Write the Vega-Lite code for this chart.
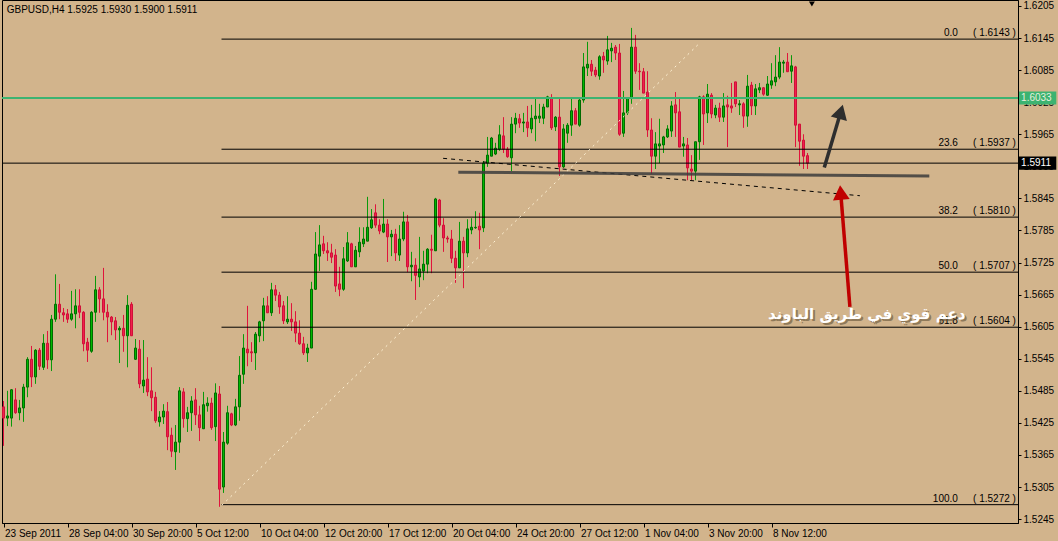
{
"$schema": "https://vega.github.io/schema/vega-lite/v6.json",
"width": 1016, "height": 523,
"autosize": {"type": "none"},
"padding": {"left": 2, "top": 0, "right": 40, "bottom": 18},
"background": "#D2B48C",
"resolve": {"axis": {"x": "independent", "y": "independent"}},
"config": {
  "view": {"stroke": "#000000", "strokeWidth": 1},
  "font": "Liberation Sans",
  "scale": {"continuousPadding": 0},
  "axis": {"grid": false, "labelFont": "Liberation Sans", "labelFontSize": 10, "labelColor": "#000000", "tickColor": "#000000", "domainColor": "#000000", "title": null, "labelOverlap": false, "labelFlush": false}
},
"datasets": {
"bars": [
{"i":0,"o":1.5455,"h":1.5466,"l":1.5382,"c":1.5434},
{"i":1,"o":1.5434,"h":1.5485,"l":1.5419,"c":1.5438},
{"i":2,"o":1.5434,"h":1.5488,"l":1.5418,"c":1.5487},
{"i":3,"o":1.5468,"h":1.5490,"l":1.5442,"c":1.5444},
{"i":4,"o":1.5444,"h":1.5468,"l":1.5430,"c":1.5453},
{"i":5,"o":1.5453,"h":1.5498,"l":1.5427,"c":1.5492},
{"i":6,"o":1.5492,"h":1.5548,"l":1.5473,"c":1.5544},
{"i":7,"o":1.5544,"h":1.5569,"l":1.5492,"c":1.5511},
{"i":8,"o":1.5511,"h":1.5563,"l":1.5498,"c":1.5561},
{"i":9,"o":1.5561,"h":1.5565,"l":1.5524,"c":1.5531},
{"i":10,"o":1.5529,"h":1.5591,"l":1.5524,"c":1.5574},
{"i":11,"o":1.5574,"h":1.5597,"l":1.5526,"c":1.5543},
{"i":12,"o":1.5543,"h":1.5627,"l":1.5522,"c":1.5619},
{"i":13,"o":1.5619,"h":1.5703,"l":1.5614,"c":1.5647},
{"i":14,"o":1.5647,"h":1.5685,"l":1.5619,"c":1.5632},
{"i":15,"o":1.5631,"h":1.5640,"l":1.5614,"c":1.5627},
{"i":16,"o":1.5629,"h":1.5638,"l":1.5612,"c":1.5619},
{"i":17,"o":1.5619,"h":1.5672,"l":1.5616,"c":1.5629},
{"i":18,"o":1.5629,"h":1.5675,"l":1.5602,"c":1.5644},
{"i":19,"o":1.5644,"h":1.5675,"l":1.5621,"c":1.5632},
{"i":20,"o":1.5632,"h":1.5634,"l":1.5559,"c":1.5573},
{"i":21,"o":1.5576,"h":1.5584,"l":1.5539,"c":1.5561},
{"i":22,"o":1.5559,"h":1.5634,"l":1.5556,"c":1.5632},
{"i":23,"o":1.5632,"h":1.5700,"l":1.5614,"c":1.5674},
{"i":24,"o":1.5674,"h":1.5679,"l":1.5631,"c":1.5657},
{"i":25,"o":1.5657,"h":1.5715,"l":1.5617,"c":1.5632},
{"i":26,"o":1.5632,"h":1.5647,"l":1.5576,"c":1.5623},
{"i":27,"o":1.5623,"h":1.5625,"l":1.5589,"c":1.5614},
{"i":28,"o":1.5616,"h":1.5623,"l":1.5580,"c":1.5599},
{"i":29,"o":1.5599,"h":1.5606,"l":1.5537,"c":1.5602},
{"i":30,"o":1.5602,"h":1.5627,"l":1.5558,"c":1.5588},
{"i":31,"o":1.5588,"h":1.5664,"l":1.5529,"c":1.5645},
{"i":32,"o":1.5647,"h":1.5651,"l":1.5588,"c":1.5588},
{"i":33,"o":1.5544,"h":1.5582,"l":1.5543,"c":1.5565},
{"i":34,"o":1.5563,"h":1.5580,"l":1.5490,"c":1.5498},
{"i":35,"o":1.5494,"h":1.5580,"l":1.5481,"c":1.5505},
{"i":36,"o":1.5507,"h":1.5548,"l":1.5475,"c":1.5483},
{"i":37,"o":1.5485,"h":1.5529,"l":1.5447,"c":1.5472},
{"i":38,"o":1.5473,"h":1.5483,"l":1.5425,"c":1.5429},
{"i":39,"o":1.5427,"h":1.5447,"l":1.5418,"c":1.5436},
{"i":40,"o":1.5436,"h":1.5460,"l":1.5423,"c":1.5447},
{"i":41,"o":1.5446,"h":1.5464,"l":1.5374,"c":1.5399},
{"i":42,"o":1.5402,"h":1.5416,"l":1.5361,"c":1.5372},
{"i":43,"o":1.5371,"h":1.5421,"l":1.5337,"c":1.5389},
{"i":44,"o":1.5389,"h":1.5492,"l":1.5369,"c":1.5485},
{"i":45,"o":1.5483,"h":1.5490,"l":1.5416,"c":1.5433},
{"i":46,"o":1.5433,"h":1.5455,"l":1.5408,"c":1.5444},
{"i":47,"o":1.5444,"h":1.5475,"l":1.5410,"c":1.5466},
{"i":48,"o":1.5468,"h":1.5490,"l":1.5421,"c":1.5440},
{"i":49,"o":1.5440,"h":1.5457,"l":1.5391,"c":1.5416},
{"i":50,"o":1.5414,"h":1.5483,"l":1.5414,"c":1.5459},
{"i":51,"o":1.5457,"h":1.5473,"l":1.5446,"c":1.5462},
{"i":52,"o":1.5462,"h":1.5472,"l":1.5412,"c":1.5416},
{"i":53,"o":1.5418,"h":1.5499,"l":1.5391,"c":1.5481},
{"i":54,"o":1.5479,"h":1.5494,"l":1.5268,"c":1.5301},
{"i":55,"o":1.5305,"h":1.5408,"l":1.5294,"c":1.5389},
{"i":56,"o":1.5387,"h":1.5457,"l":1.5384,"c":1.5444},
{"i":57,"o":1.5442,"h":1.5444,"l":1.5419,"c":1.5421},
{"i":58,"o":1.5421,"h":1.5470,"l":1.5419,"c":1.5455},
{"i":59,"o":1.5455,"h":1.5550,"l":1.5429,"c":1.5514},
{"i":60,"o":1.5516,"h":1.5591,"l":1.5498,"c":1.5565},
{"i":61,"o":1.5563,"h":1.5644,"l":1.5531,"c":1.5556},
{"i":62,"o":1.5558,"h":1.5576,"l":1.5539,"c":1.5556},
{"i":63,"o":1.5556,"h":1.5595,"l":1.5524,"c":1.5591},
{"i":64,"o":1.5588,"h":1.5616,"l":1.5576,"c":1.5614},
{"i":65,"o":1.5616,"h":1.5659,"l":1.5578,"c":1.5644},
{"i":66,"o":1.5644,"h":1.5662,"l":1.5631,"c":1.5631},
{"i":67,"o":1.5631,"h":1.5687,"l":1.5625,"c":1.5674},
{"i":68,"o":1.5674,"h":1.5683,"l":1.5653,"c":1.5664},
{"i":69,"o":1.5664,"h":1.5670,"l":1.5629,"c":1.5642},
{"i":70,"o":1.5644,"h":1.5653,"l":1.5610,"c":1.5616},
{"i":71,"o":1.5614,"h":1.5662,"l":1.5610,"c":1.5619},
{"i":72,"o":1.5619,"h":1.5649,"l":1.5597,"c":1.5614},
{"i":73,"o":1.5614,"h":1.5634,"l":1.5576,"c":1.5593},
{"i":74,"o":1.5593,"h":1.5617,"l":1.5571,"c":1.5573},
{"i":75,"o":1.5573,"h":1.5586,"l":1.5552,"c":1.5556},
{"i":76,"o":1.5556,"h":1.5573,"l":1.5539,"c":1.5565},
{"i":77,"o":1.5565,"h":1.5689,"l":1.5565,"c":1.5675},
{"i":78,"o":1.5675,"h":1.5782,"l":1.5674,"c":1.5741},
{"i":79,"o":1.5737,"h":1.5795,"l":1.5709,"c":1.5758},
{"i":80,"o":1.5760,"h":1.5775,"l":1.5741,"c":1.5747},
{"i":81,"o":1.5747,"h":1.5763,"l":1.5728,"c":1.5743},
{"i":82,"o":1.5743,"h":1.5760,"l":1.5724,"c":1.5735},
{"i":83,"o":1.5739,"h":1.5750,"l":1.5670,"c":1.5681},
{"i":84,"o":1.5685,"h":1.5717,"l":1.5662,"c":1.5675},
{"i":85,"o":1.5675,"h":1.5754,"l":1.5672,"c":1.5732},
{"i":86,"o":1.5728,"h":1.5782,"l":1.5726,"c":1.5762},
{"i":87,"o":1.5760,"h":1.5762,"l":1.5717,"c":1.5717},
{"i":88,"o":1.5717,"h":1.5756,"l":1.5717,"c":1.5748},
{"i":89,"o":1.5745,"h":1.5791,"l":1.5735,"c":1.5763},
{"i":90,"o":1.5760,"h":1.5791,"l":1.5754,"c":1.5769},
{"i":91,"o":1.5765,"h":1.5848,"l":1.5765,"c":1.5791},
{"i":92,"o":1.5790,"h":1.5825,"l":1.5788,"c":1.5805},
{"i":93,"o":1.5818,"h":1.5834,"l":1.5790,"c":1.5795},
{"i":94,"o":1.5795,"h":1.5806,"l":1.5778,"c":1.5784},
{"i":95,"o":1.5782,"h":1.5844,"l":1.5780,"c":1.5797},
{"i":96,"o":1.5797,"h":1.5806,"l":1.5726,"c":1.5773},
{"i":97,"o":1.5773,"h":1.5786,"l":1.5737,"c":1.5778},
{"i":98,"o":1.5778,"h":1.5788,"l":1.5728,"c":1.5743},
{"i":99,"o":1.5739,"h":1.5795,"l":1.5728,"c":1.5769},
{"i":100,"o":1.5769,"h":1.5820,"l":1.5765,"c":1.5801},
{"i":101,"o":1.5801,"h":1.5814,"l":1.5707,"c":1.5717},
{"i":102,"o":1.5717,"h":1.5745,"l":1.5690,"c":1.5720},
{"i":103,"o":1.5720,"h":1.5733,"l":1.5655,"c":1.5701},
{"i":104,"o":1.5698,"h":1.5773,"l":1.5679,"c":1.5713},
{"i":105,"o":1.5709,"h":1.5747,"l":1.5692,"c":1.5722},
{"i":106,"o":1.5722,"h":1.5752,"l":1.5705,"c":1.5750},
{"i":107,"o":1.5750,"h":1.5777,"l":1.5705,"c":1.5748},
{"i":108,"o":1.5747,"h":1.5846,"l":1.5747,"c":1.5844},
{"i":109,"o":1.5842,"h":1.5844,"l":1.5791,"c":1.5795},
{"i":110,"o":1.5795,"h":1.5808,"l":1.5745,"c":1.5771},
{"i":111,"o":1.5771,"h":1.5775,"l":1.5762,"c":1.5769},
{"i":112,"o":1.5769,"h":1.5786,"l":1.5724,"c":1.5733},
{"i":113,"o":1.5733,"h":1.5747,"l":1.5687,"c":1.5715},
{"i":114,"o":1.5715,"h":1.5801,"l":1.5715,"c":1.5765},
{"i":115,"o":1.5765,"h":1.5773,"l":1.5677,"c":1.5743},
{"i":116,"o":1.5743,"h":1.5806,"l":1.5735,"c":1.5788},
{"i":117,"o":1.5786,"h":1.5808,"l":1.5778,"c":1.5791},
{"i":118,"o":1.5790,"h":1.5821,"l":1.5788,"c":1.5791},
{"i":119,"o":1.5793,"h":1.5818,"l":1.5750,"c":1.5786},
{"i":120,"o":1.5790,"h":1.5915,"l":1.5782,"c":1.5911},
{"i":121,"o":1.5911,"h":1.5960,"l":1.5904,"c":1.5926},
{"i":122,"o":1.5924,"h":1.5960,"l":1.5924,"c":1.5958},
{"i":123,"o":1.5928,"h":1.5949,"l":1.5926,"c":1.5939},
{"i":124,"o":1.5937,"h":1.5982,"l":1.5934,"c":1.5964},
{"i":125,"o":1.5962,"h":1.5997,"l":1.5930,"c":1.5937},
{"i":126,"o":1.5937,"h":1.5941,"l":1.5921,"c":1.5923},
{"i":127,"o":1.5921,"h":1.5997,"l":1.5896,"c":1.5984},
{"i":128,"o":1.5984,"h":1.6005,"l":1.5967,"c":1.5995},
{"i":129,"o":1.5994,"h":1.6003,"l":1.5977,"c":1.5986},
{"i":130,"o":1.5986,"h":1.6005,"l":1.5969,"c":1.5988},
{"i":131,"o":1.5988,"h":1.6018,"l":1.5960,"c":1.5977},
{"i":132,"o":1.5975,"h":1.6020,"l":1.5967,"c":1.5995},
{"i":133,"o":1.5994,"h":1.6031,"l":1.5952,"c":1.5999},
{"i":134,"o":1.5995,"h":1.6022,"l":1.5986,"c":1.5999},
{"i":135,"o":1.5995,"h":1.6022,"l":1.5984,"c":1.6016},
{"i":136,"o":1.6016,"h":1.6037,"l":1.6016,"c":1.6035},
{"i":137,"o":1.6033,"h":1.6040,"l":1.5973,"c":1.5977},
{"i":138,"o":1.5979,"h":1.5999,"l":1.5971,"c":1.5997},
{"i":139,"o":1.5997,"h":1.6033,"l":1.5887,"c":1.5904},
{"i":140,"o":1.5904,"h":1.5984,"l":1.5902,"c":1.5975},
{"i":141,"o":1.5967,"h":1.5986,"l":1.5949,"c":1.5982},
{"i":142,"o":1.5982,"h":1.6031,"l":1.5962,"c":1.6009},
{"i":143,"o":1.6009,"h":1.6014,"l":1.5984,"c":1.5984},
{"i":144,"o":1.5982,"h":1.6031,"l":1.5979,"c":1.6029},
{"i":145,"o":1.6029,"h":1.6117,"l":1.6024,"c":1.6091},
{"i":146,"o":1.6089,"h":1.6138,"l":1.6074,"c":1.6096},
{"i":147,"o":1.6096,"h":1.6104,"l":1.6074,"c":1.6083},
{"i":148,"o":1.6085,"h":1.6091,"l":1.6072,"c":1.6076},
{"i":149,"o":1.6074,"h":1.6113,"l":1.6067,"c":1.6110},
{"i":150,"o":1.6111,"h":1.6119,"l":1.6080,"c":1.6104},
{"i":151,"o":1.6102,"h":1.6149,"l":1.6095,"c":1.6123},
{"i":152,"o":1.6121,"h":1.6136,"l":1.6100,"c":1.6126},
{"i":153,"o":1.6128,"h":1.6132,"l":1.6104,"c":1.6117},
{"i":154,"o":1.6117,"h":1.6134,"l":1.5962,"c":1.5965},
{"i":155,"o":1.5967,"h":1.6046,"l":1.5960,"c":1.6005},
{"i":156,"o":1.6005,"h":1.6033,"l":1.6001,"c":1.6033},
{"i":157,"o":1.6033,"h":1.6164,"l":1.6022,"c":1.6128},
{"i":158,"o":1.6128,"h":1.6151,"l":1.6078,"c":1.6083},
{"i":159,"o":1.6083,"h":1.6098,"l":1.6048,"c":1.6082},
{"i":160,"o":1.6082,"h":1.6089,"l":1.6042,"c":1.6042},
{"i":161,"o":1.6044,"h":1.6083,"l":1.5960,"c":1.5973},
{"i":162,"o":1.5973,"h":1.5995,"l":1.5891,"c":1.5924},
{"i":163,"o":1.5924,"h":1.5969,"l":1.5900,"c":1.5947},
{"i":164,"o":1.5943,"h":1.5994,"l":1.5911,"c":1.5947},
{"i":165,"o":1.5945,"h":1.5962,"l":1.5930,"c":1.5960},
{"i":166,"o":1.5960,"h":1.5982,"l":1.5958,"c":1.5975},
{"i":167,"o":1.5971,"h":1.6027,"l":1.5960,"c":1.6018},
{"i":168,"o":1.6020,"h":1.6044,"l":1.5960,"c":1.6005},
{"i":169,"o":1.6007,"h":1.6033,"l":1.5941,"c":1.5941},
{"i":170,"o":1.5943,"h":1.5960,"l":1.5923,"c":1.5947},
{"i":171,"o":1.5945,"h":1.5958,"l":1.5879,"c":1.5902},
{"i":172,"o":1.5900,"h":1.5926,"l":1.5879,"c":1.5896},
{"i":173,"o":1.5896,"h":1.5951,"l":1.5879,"c":1.5951},
{"i":174,"o":1.5951,"h":1.6037,"l":1.5917,"c":1.6035},
{"i":175,"o":1.6035,"h":1.6038,"l":1.5945,"c":1.6003},
{"i":176,"o":1.6005,"h":1.6059,"l":1.5986,"c":1.6040},
{"i":177,"o":1.6038,"h":1.6042,"l":1.5995,"c":1.6003},
{"i":178,"o":1.6001,"h":1.6020,"l":1.5995,"c":1.6014},
{"i":179,"o":1.6014,"h":1.6024,"l":1.5988,"c":1.5997},
{"i":180,"o":1.5997,"h":1.6042,"l":1.5988,"c":1.6018},
{"i":181,"o":1.6020,"h":1.6037,"l":1.5941,"c":1.6016},
{"i":182,"o":1.6018,"h":1.6061,"l":1.6005,"c":1.6014},
{"i":183,"o":1.6063,"h":1.6063,"l":1.6016,"c":1.6022},
{"i":184,"o":1.6020,"h":1.6029,"l":1.6001,"c":1.6022},
{"i":185,"o":1.6022,"h":1.6025,"l":1.5977,"c":1.5999},
{"i":186,"o":1.5999,"h":1.6076,"l":1.5979,"c":1.6055},
{"i":187,"o":1.6057,"h":1.6063,"l":1.6001,"c":1.6018},
{"i":188,"o":1.6018,"h":1.6059,"l":1.6001,"c":1.6050},
{"i":189,"o":1.6048,"h":1.6061,"l":1.6042,"c":1.6052},
{"i":190,"o":1.6052,"h":1.6053,"l":1.6037,"c":1.6040},
{"i":191,"o":1.6038,"h":1.6074,"l":1.6037,"c":1.6059},
{"i":192,"o":1.6057,"h":1.6098,"l":1.6050,"c":1.6065},
{"i":193,"o":1.6063,"h":1.6113,"l":1.6055,"c":1.6072},
{"i":194,"o":1.6072,"h":1.6128,"l":1.6068,"c":1.6100},
{"i":195,"o":1.6098,"h":1.6104,"l":1.6080,"c":1.6100},
{"i":196,"o":1.6100,"h":1.6117,"l":1.6082,"c":1.6082},
{"i":197,"o":1.6083,"h":1.6113,"l":1.6061,"c":1.6093},
{"i":198,"o":1.6091,"h":1.6093,"l":1.5941,"c":1.5982},
{"i":199,"o":1.5984,"h":1.5984,"l":1.5906,"c":1.5952},
{"i":200,"o":1.5954,"h":1.5965,"l":1.5900,"c":1.5924},
{"i":201,"o":1.5925,"h":1.5930,"l":1.5900,"c":1.5911}
],
"fib": [
{"lvl":"0.0","p":1.6143,"lab":"( 1.6143 )"},
{"lvl":"23.6","p":1.5937,"lab":"( 1.5937 )"},
{"lvl":"38.2","p":1.5810,"lab":"( 1.5810 )"},
{"lvl":"50.0","p":1.5707,"lab":"( 1.5707 )"},
{"lvl":"61.8","p":1.5604,"lab":"( 1.5604 )"},
{"lvl":"100.0","p":1.5272,"lab":"( 1.5272 )"}
],
"trend": [{"i":54.6,"p":1.5271},{"i":174.1,"p":1.6136}],
"dashed": [{"i":109.9,"p":1.5920},{"i":214.1,"p":1.5850}],
"support": [{"i":113.7,"p":1.5894},{"i":231.45,"p":1.5887}],
"darkArrow": [{"i":205.2,"p":1.5903},{"i":209.33,"p":1.6007}],
"redArrow": [{"i":211.6,"p":1.5642},{"i":209.3,"p":1.5856}]
},
"layer": [
{
  "data": {"name": "bars"},
  "mark": {"type": "rule", "strokeWidth": 1},
  "encoding": {
    "x": {"field": "i", "type": "quantitative", "scale": {"domain": [-0.375, 253.625], "nice": false, "zero": false, "padding": 0},
      "axis": {"orient": "bottom", "values": [0,16,32,48,64,80,96,112,128,144,160,176,192], "labelExpr": "['23 Sep 2011','28 Sep 04:00','30 Sep 20:00','5 Oct 12:00','10 Oct 04:00','12 Oct 20:00','17 Oct 12:00','20 Oct 04:00','24 Oct 20:00','27 Oct 12:00','1 Nov 04:00','3 Nov 20:00','8 Nov 12:00'][round(datum.value/16)]", "labelAlign": "left", "labelBaseline": "top", "labelPadding": 1, "tickSize": 4, "labelOffset": 1, "labelFlush": false, "labelOverlap": false, "domain": true}, "title": null},
    "y": {"field": "l", "type": "quantitative", "scale": {"domain": [1.52377, 1.62162], "nice": false, "zero": false, "padding": 0},
      "axis": {"orient": "right", "values": [1.6205,1.6145,1.6085,1.6025,1.5965,1.5905,1.5845,1.5785,1.5725,1.5665,1.5605,1.5545,1.5485,1.5425,1.5365,1.5305,1.5245], "format": ".4f", "tickSize": 3, "labelPadding": 2, "labelFlush": false, "labelOverlap": false, "labelSeparation": 0, "domain": true}, "title": null},
    "y2": {"field": "h"},
    "color": {"condition": {"test": "datum.c >= datum.o", "value": "#0A9A0A"}, "value": "#E0143C"}
  }
},
{
  "data": {"name": "bars"},
  "mark": {"type": "bar", "width": 2, "strokeWidth": 1},
  "encoding": {
    "x": {"field": "i", "type": "quantitative", "axis": null},
    "y": {"field": "o", "type": "quantitative", "axis": null},
    "y2": {"field": "c"},
    "fill": {"condition": {"test": "datum.c >= datum.o", "value": "#00B800"}, "value": "#F0204C"},
    "stroke": {"condition": {"test": "datum.c >= datum.o", "value": "#006A00"}, "value": "#D01038"}
  }
},
{
  "data": {"name": "fib"},
  "mark": {"type": "rule", "color": "#000000", "strokeWidth": 1},
  "encoding": {
    "x": {"datum": 54.5, "type": "quantitative", "axis": null},
    "x2": {"datum": 253.625},
    "y": {"field": "p", "type": "quantitative", "axis": null}
  }
},
{
  "data": {"name": "fib"},
  "mark": {"type": "text", "align": "right", "baseline": "bottom", "dy": -1, "fontSize": 10, "color": "#000000", "font": "Liberation Sans"},
  "encoding": {
    "x": {"datum": 238.6, "type": "quantitative", "axis": null},
    "y": {"field": "p", "type": "quantitative", "axis": null},
    "text": {"field": "lvl"}
  }
},
{
  "data": {"name": "fib"},
  "mark": {"type": "text", "align": "right", "baseline": "bottom", "dy": -1, "fontSize": 10, "color": "#000000", "font": "Liberation Sans"},
  "encoding": {
    "x": {"datum": 253.1, "type": "quantitative", "axis": null},
    "y": {"field": "p", "type": "quantitative", "axis": null},
    "text": {"field": "lab"}
  }
},
{
  "data": {"values": [{"p": 1.6033}]},
  "mark": {"type": "rule", "color": "#3CB371", "strokeWidth": 2},
  "encoding": {"y": {"field": "p", "type": "quantitative", "axis": null}}
},
{
  "data": {"values": [{"p": 1.5911}]},
  "mark": {"type": "rule", "color": "#000000", "strokeWidth": 1},
  "encoding": {"y": {"field": "p", "type": "quantitative", "axis": null}}
},
{
  "data": {"name": "trend"},
  "mark": {"type": "line", "color": "#FFF3D6", "strokeWidth": 1, "strokeDash": [2, 4]},
  "encoding": {"x": {"field": "i", "type": "quantitative", "axis": null}, "y": {"field": "p", "type": "quantitative", "axis": null}}
},
{
  "data": {"name": "dashed"},
  "mark": {"type": "line", "color": "#000000", "strokeWidth": 1, "strokeDash": [4, 4]},
  "encoding": {"x": {"field": "i", "type": "quantitative", "axis": null}, "y": {"field": "p", "type": "quantitative", "axis": null}}
},
{
  "data": {"name": "support"},
  "mark": {"type": "line", "color": "#3C3C3C", "strokeWidth": 3, "opacity": 0.85},
  "encoding": {"x": {"field": "i", "type": "quantitative", "axis": null}, "y": {"field": "p", "type": "quantitative", "axis": null}}
},
{
  "data": {"name": "darkArrow"},
  "mark": {"type": "line", "color": "#2E2E2E", "strokeWidth": 3.5},
  "encoding": {"x": {"field": "i", "type": "quantitative", "axis": null}, "y": {"field": "p", "type": "quantitative", "axis": null}}
},
{
  "data": {"values": [{"i": 209.33, "p": 1.6007}]},
  "mark": {"type": "point", "shape": "triangle-up", "filled": true, "color": "#2E2E2E", "size": 280, "angle": 16, "opacity": 1},
  "encoding": {"x": {"field": "i", "type": "quantitative", "axis": null}, "y": {"field": "p", "type": "quantitative", "axis": null}}
},
{
  "data": {"name": "redArrow"},
  "mark": {"type": "line", "color": "#C00000", "strokeWidth": 3.5},
  "encoding": {"x": {"field": "i", "type": "quantitative", "axis": null}, "y": {"field": "p", "type": "quantitative", "axis": null}}
},
{
  "data": {"values": [{"i": 209.3, "p": 1.5856}]},
  "mark": {"type": "point", "shape": "triangle-up", "filled": true, "color": "#C00000", "size": 280, "angle": -5, "opacity": 1},
  "encoding": {"x": {"field": "i", "type": "quantitative", "axis": null}, "y": {"field": "p", "type": "quantitative", "axis": null}}
},
{
  "data": {"values": [{"t": "دعم قوي في طريق الباوند", "i": 215.8, "p": 1.5629}]},
  "mark": {"type": "text", "font": "DejaVu Sans", "fontSize": 15, "fontWeight": "bold", "color": "#5A4A30", "opacity": 0.55, "align": "center", "baseline": "middle", "dx": 2, "dy": 2},
  "encoding": {"x": {"field": "i", "type": "quantitative", "axis": null}, "y": {"field": "p", "type": "quantitative", "axis": null}, "text": {"field": "t"}}
},
{
  "data": {"values": [{"t": "دعم قوي في طريق الباوند", "i": 215.8, "p": 1.5629}]},
  "mark": {"type": "text", "font": "DejaVu Sans", "fontSize": 15, "fontWeight": "bold", "color": "#FFFFFF", "align": "center", "baseline": "middle"},
  "encoding": {"x": {"field": "i", "type": "quantitative", "axis": null}, "y": {"field": "p", "type": "quantitative", "axis": null}, "text": {"field": "t"}}
},
{
  "data": {"values": [{"t": "GBPUSD,H4  1.5925 1.5930 1.5900 1.5911", "i": 0.8, "p": 1.61975}]},
  "mark": {"type": "text", "font": "Liberation Sans", "fontSize": 10, "color": "#000000", "align": "left", "baseline": "middle"},
  "encoding": {"x": {"field": "i", "type": "quantitative", "axis": null}, "y": {"field": "p", "type": "quantitative", "axis": null}, "text": {"field": "t"}}
},
{
  "data": {"values": [{"i": 202.1, "p": 1.62087}]},
  "mark": {"type": "point", "shape": "triangle-down", "filled": true, "color": "#000000", "size": 35, "opacity": 1},
  "encoding": {"x": {"field": "i", "type": "quantitative", "axis": null}, "y": {"field": "p", "type": "quantitative", "axis": null}}
},
{
  "data": {"values": [{"a": 253.875, "b": 263.2, "p1": 1.60452, "p2": 1.60208, "col": "g"}, {"a": 253.875, "b": 263.2, "p1": 1.59232, "p2": 1.58988, "col": "k"}]},
  "mark": {"type": "rect", "clip": false},
  "encoding": {
    "x": {"field": "a", "type": "quantitative", "axis": null}, "x2": {"field": "b"},
    "y": {"field": "p1", "type": "quantitative", "axis": null}, "y2": {"field": "p2"},
    "fill": {"field": "col", "type": "nominal", "scale": {"domain": ["g", "k"], "range": ["#3CB371", "#000000"]}, "legend": null}
  }
},
{
  "data": {"values": [{"i": 254.4, "p": 1.6033, "t": "1.6033", "col": "g"}, {"i": 254.4, "p": 1.5911, "t": "1.5911", "col": "k"}]},
  "mark": {"type": "text", "font": "Liberation Sans", "fontSize": 10, "align": "left", "baseline": "middle"},
  "encoding": {
    "x": {"field": "i", "type": "quantitative", "axis": null},
    "y": {"field": "p", "type": "quantitative", "axis": null},
    "text": {"field": "t"},
    "color": {"field": "col", "type": "nominal", "scale": {"domain": ["g", "k"], "range": ["#E6F0DC", "#FFFFFF"]}, "legend": null}
  }
}
]
}
